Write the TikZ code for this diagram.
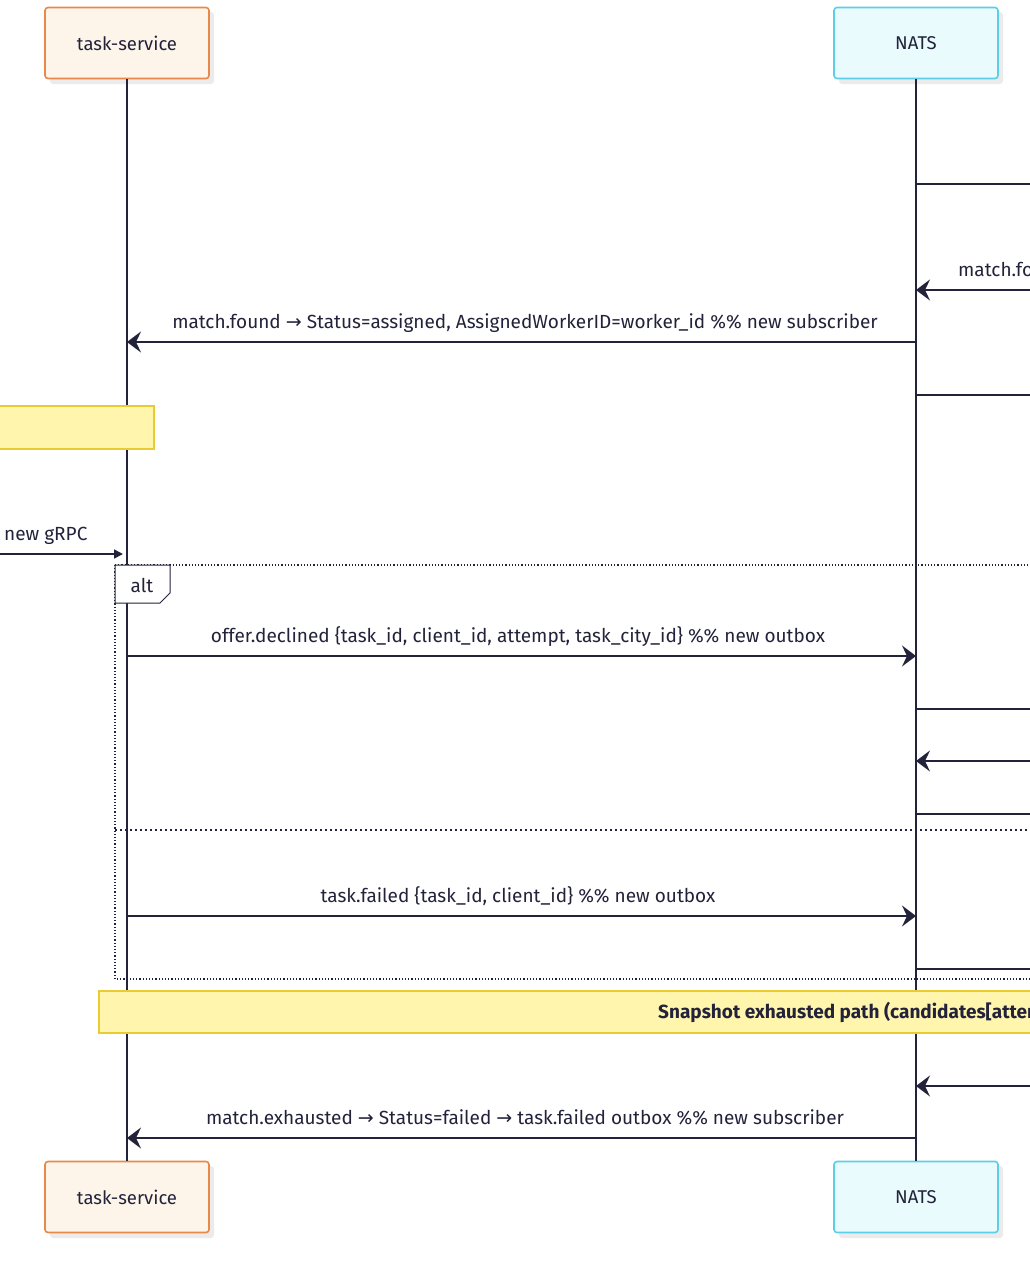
\documentclass[tikz,border=0pt]{standalone}
\usepackage{fontspec}
\setmainfont{Fira Sans}
\newfontfamily\arrowfont{DejaVu Sans}
\usetikzlibrary{arrows.meta}
\definecolor{ink}{HTML}{22223A}
\definecolor{tsfill}{HTML}{FDF5EA}
\definecolor{tsdraw}{HTML}{E8894A}
\definecolor{nfill}{HTML}{EAFBFE}
\definecolor{ndraw}{HTML}{5CCFE6}
\definecolor{notefill}{HTML}{FFF5AD}
\definecolor{notedraw}{HTML}{E9CB32}
\newcommand{\ar}{{\arrowfont\fontsize{19}{22}\selectfont→}}
\tikzset{
  actor/.style={rounded corners=3, line width=1.6pt, minimum width=164pt, minimum height=71pt, inner sep=0,
    font=\fontsize{18.5}{22}\selectfont, text=ink},
  life/.style={draw=ink, line width=1.6pt},
  msg/.style={draw=ink, line width=1.6pt, -{Stealth[length=14pt,width=21pt,inset=5pt]}},
  plain/.style={draw=ink, line width=1.6pt},
  lbl/.style={font=\fontsize{19}{22}\selectfont, text=ink, inner sep=0},
  frame/.style={draw=ink, line width=1.2pt, dotted},
  note/.style={fill=notefill, draw=notedraw, line width=1.3pt},
}
\begin{document}
\begin{tikzpicture}[x=1pt,y=-1pt]
\useasboundingbox (0,0) rectangle (1030,1270);
\clip (0,0) rectangle (1030,1270);
\foreach \x/\y in {127/43,916/43,127/1197,916/1197}
  \fill[black!8, rounded corners=3] (\x-82+5,\y-36+5) rectangle (\x+82+5,\y+36+5);
\node[actor, fill=tsfill, draw=tsdraw] (ts) at (127,43) {task-service};
\node[actor, fill=nfill, draw=ndraw] (nats) at (916,43) {NATS};
\node[actor, fill=tsfill, draw=tsdraw] (tsb) at (127,1197) {task-service};
\node[actor, fill=nfill, draw=ndraw] (natsb) at (916,1197) {NATS};
\draw[life] (ts.south) -- (tsb.north);
\draw[life] (nats.south) -- (natsb.north);
\foreach \n/\y in {a/184,b/290,d/395,f/709,g/761,h/814,i/969,j/1086}
  \coordinate (r\n) at (1032,\y);
\foreach \n/\y in {a/184,b/290,c/342,d/395,e/656,f/709,g/761,h/814,k/916,i/969,j/1086,l/1138}{
  \coordinate (n\n) at (916,\y);
  \coordinate (t\n) at (127,\y);}
\draw[plain] (na) -- (ra);
\draw[msg] (rb) -- (nb);
\node[lbl, anchor=base west] (lb) at (958,276) {match.found};
\draw[msg] (nc) -- (tc);
\node[lbl, anchor=base] (lc) at (525,328) {match.found \ar{} Status=assigned, AssignedWorkerID=worker\_id \%\% new subscriber};
\draw[plain] (nd) -- (rd);
\draw[note] (-5,406) rectangle (154,449);
\coordinate (gl) at (-2,554);
\coordinate (gr) at (123,554);
\draw[draw=ink, line width=1.6pt, -{Triangle[length=9pt,width=9pt]}] (gl) -- (gr);
\node[lbl, anchor=base west] (lg) at (4,540) {new gRPC};
\draw[frame] (115,565) -- (1040,565);
\draw[frame] (115,565) -- (115,979) -- (1040,979);
\draw[draw=ink, line width=1pt, fill=white] (115,565) -- (170,565) -- (170,593) -- (160,603) -- (115,603) -- cycle;
\node[lbl, anchor=base] (alt) at (142,592) {alt};
\draw[msg] (te) -- (ne);
\node[lbl, anchor=base] (le) at (518,642) {offer.declined \{task\_id, client\_id, attempt, task\_city\_id\} \%\% new outbox};
\draw[plain] (nf) -- (rf);
\draw[msg] (rg) -- (ng);
\draw[plain] (nh) -- (rh);
\draw[frame, dash pattern=on 2pt off 3pt] (115,830) -- (1040,830);
\draw[msg] (tk) -- (nk);
\node[lbl, anchor=base] (lk) at (518,902) {task.failed \{task\_id, client\_id\} \%\% new outbox};
\draw[plain] (ni) -- (ri);
\draw[note] (99,991) rectangle (1040,1033);
\node[lbl, anchor=base west, font=\fontsize{19}{22}\selectfont\bfseries] (ls) at (658,1018) {Snapshot exhausted path (candidates[attempt] empty)};
\draw[msg] (rj) -- (nj);
\draw[msg] (nl) -- (tl);
\node[lbl, anchor=base] (ll) at (525,1124) {match.exhausted \ar{} Status=failed \ar{} task.failed outbox \%\% new subscriber};
\end{tikzpicture}
\end{document}
